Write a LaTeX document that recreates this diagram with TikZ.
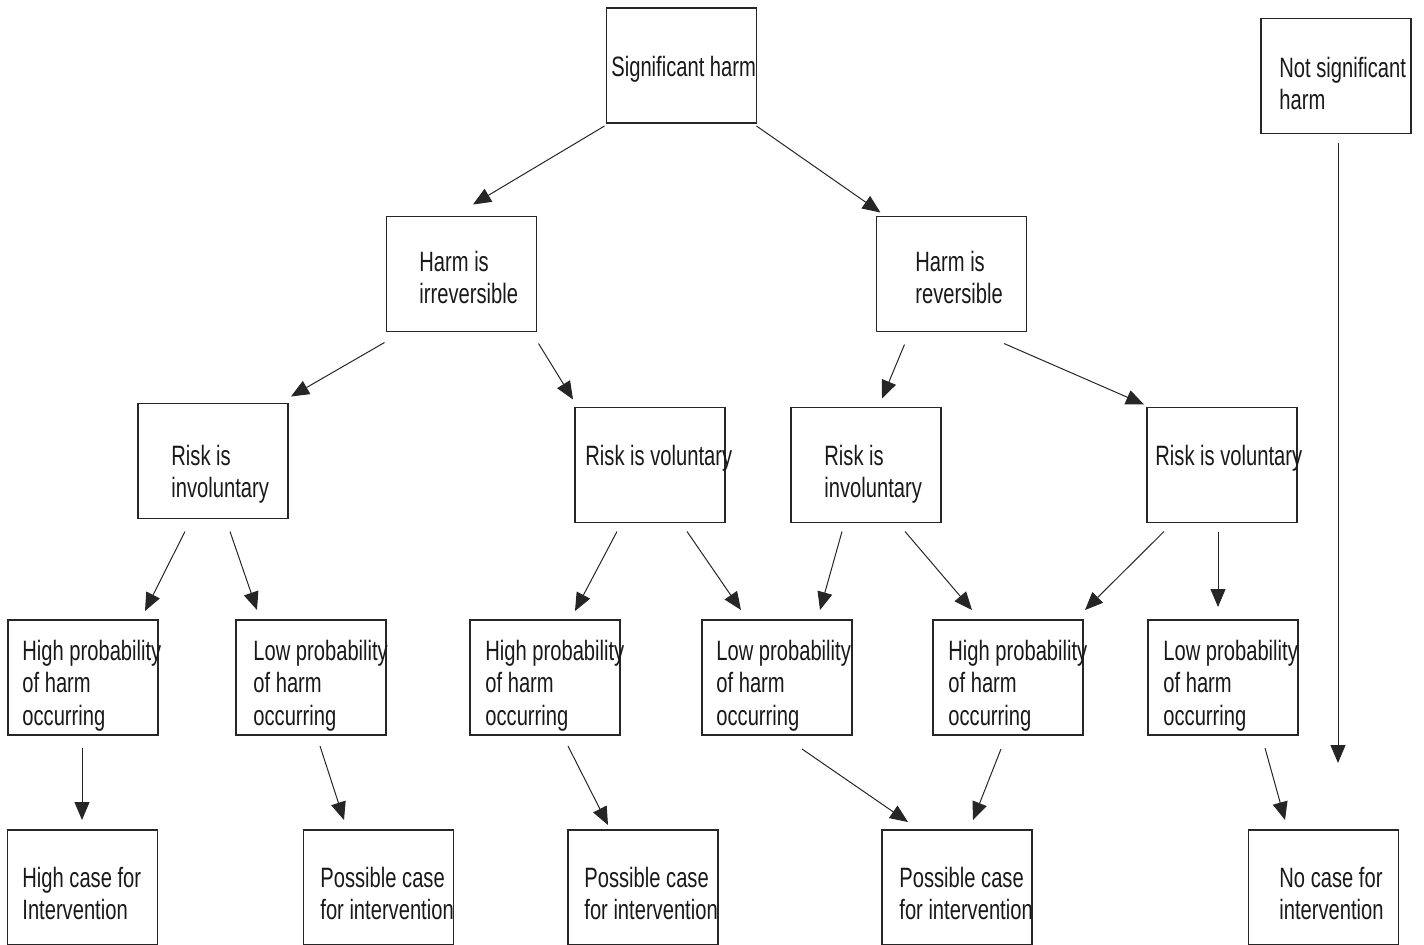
\documentclass[tikz,border=0pt]{standalone}
\usepackage{fontspec}
\setmainfont{Liberation Sans}[FakeStretch=0.72]
\usetikzlibrary{arrows.meta}
\begin{document}
\begin{tikzpicture}[x=0.5pt,y=-0.5pt,
  box/.style={draw=black!85,line width=0.65pt,minimum width=75pt,minimum height=57.5pt,inner sep=0pt,outer sep=0pt},
  txt/.style={anchor=base west,inner sep=0pt,align=left,text=black!90,font=\fontsize{14}{16.25}\selectfont},
  arr/.style={draw=black!85,line width=0.5pt,-{Triangle[width=7.5pt,length=9pt]}}]
\useasboundingbox (0,0) rectangle (1424,944);
% boxes
\node[box] (sig) at (681.5,65.5) {};
\node[box] (nsig) at (1336,76) {};
\node[box] (hi) at (461.5,274) {};
\node[box] (hr) at (951.5,274) {};
\node[box] (ril) at (213,461) {};
\node[box] (rvl) at (650,465) {};
\node[box] (rir) at (866,465) {};
\node[box] (rvr) at (1222,465) {};
\node[box] (h1) at (83,677.5) {};
\node[box] (l1) at (311,677.5) {};
\node[box] (h2) at (545,677.5) {};
\node[box] (l2) at (777,677.5) {};
\node[box] (h3) at (1008,677.5) {};
\node[box] (l3) at (1223,677.5) {};
\node[box] (hc) at (82.5,887.5) {};
\node[box] (p1) at (378.5,887.5) {};
\node[box] (p2) at (643,887.5) {};
\node[box] (p3) at (957,887.5) {};
\node[box] (nc) at (1323.5,887.5) {};
% texts (anchor at baseline of last line)
\node[txt] (sig-t) at (611,76) {Significant harm};
\node[txt] (nsig-t) at (1279,109.5) {Not significant\\harm};
\node[txt] (hi-t) at (419,303.5) {Harm is\\irreversible};
\node[txt] (hr-t) at (915,303.5) {Harm is\\reversible};
\node[txt] (ril-t) at (171,497.5) {Risk is\\involuntary};
\node[txt] (rvl-t) at (585,465) {Risk is voluntary};
\node[txt] (rir-t) at (824,497.5) {Risk is\\involuntary};
\node[txt] (rvr-t) at (1155,465) {Risk is voluntary};
\node[txt] (h1-t) at (22,725) {High probability\\of harm\\occurring};
\node[txt] (l1-t) at (253,725) {Low probability\\of harm\\occurring};
\node[txt] (h2-t) at (485,725) {High probability\\of harm\\occurring};
\node[txt] (l2-t) at (716,725) {Low probability\\of harm\\occurring};
\node[txt] (h3-t) at (948,725) {High probability\\of harm\\occurring};
\node[txt] (l3-t) at (1163,725) {Low probability\\of harm\\occurring};
\node[txt] (hc-t) at (22,919.5) {High case for\\Intervention};
\node[txt] (p1-t) at (320,919.5) {Possible case\\for intervention};
\node[txt] (p2-t) at (584,919.5) {Possible case\\for intervention};
\node[txt] (p3-t) at (899,919.5) {Possible case\\for intervention};
\node[txt] (nc-t) at (1279,919.5) {No case for\\intervention};
\coordinate (nsig-end) at (1338,763);
% arrows
\draw[arr] ([shift={(-2,3)}]sig.south west) -- ([shift={(11.5,-12)}]hi.north);
\draw[arr] ([shift={(0,3)}]sig.south east) -- ([shift={(4,-4)}]hr.north west);
\draw[arr] ([shift={(-2,11)}]hi.south west) -- ([shift={(3,-7)}]ril.north east);
\draw[arr] ([shift={(2,12)}]hi.south east) -- ([shift={(-2,-8)}]rvl.north west);
\draw[arr] ([shift={(28,13)}]hr.south west) -- ([shift={(16,-9)}]rir.north);
\draw[arr] ([shift={(52.5,12)}]hr.south) -- ([shift={(-3,-3)}]rvr.north west);
\draw[arr] ([shift={(-28,13)}]ril.south) -- ([shift={(62,-9)}]h1.north);
\draw[arr] ([shift={(17,13)}]ril.south) -- ([shift={(-54,-10)}]l1.north);
\draw[arr] ([shift={(-33,9)}]rvl.south) -- ([shift={(30,-9)}]h2.north);
\draw[arr] ([shift={(37,9)}]rvl.south) -- ([shift={(-36,-10)}]l2.north);
\draw[arr] ([shift={(-24,9)}]rir.south) -- ([shift={(43,-10)}]l2.north);
\draw[arr] ([shift={(39,9)}]rir.south) -- ([shift={(-36,-10)}]h3.north);
\draw[arr] ([shift={(-58,9)}]rvr.south) -- ([shift={(2,-10)}]h3.north east);
\draw[arr] ([shift={(-4,9)}]rvr.south) -- ([shift={(-5,-13)}]l3.north);
\draw[arr] ([shift={(2,9)}]nsig.south) -- (nsig-end);
\draw[arr] ([shift={(-1,13)}]h1.south) -- ([shift={(-0.5,-10)}]hc.north);
\draw[arr] ([shift={(9,11)}]l1.south) -- ([shift={(-34.5,-10)}]p1.north);
\draw[arr] ([shift={(23,11)}]h2.south) -- ([shift={(-35,-5)}]p2.north);
\draw[arr] ([shift={(25,14)}]l2.south) -- ([shift={(-49,-8)}]p3.north);
\draw[arr] ([shift={(-7,14)}]h3.south) -- ([shift={(16,-10)}]p3.north);
\draw[arr] ([shift={(42,13)}]l3.south) -- ([shift={(-38.5,-10)}]nc.north);
\end{tikzpicture}
\end{document}
